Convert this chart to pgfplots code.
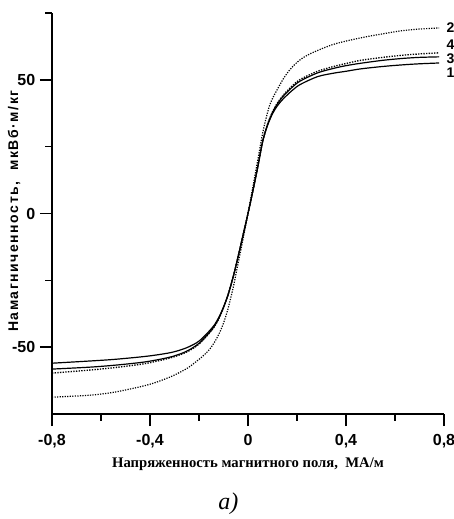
\documentclass[border=0pt]{standalone}
\usepackage{fontspec}
\setmainfont{Liberation Serif}
\setsansfont{Liberation Sans}
\usepackage{pgfplots}
\pgfplotsset{compat=1.18}

\begin{document}
\begin{tikzpicture}
% page frame, to keep the white margins of the scan
\path[use as bounding box] (-39pt,-78.75pt) rectangle (301.5pt,310.5pt);
\begin{axis}[
    scale only axis,
    width=294pt, height=300.75pt,
    xmin=-0.8, xmax=0.8,
    ymin=-75, ymax=75,
    axis lines=left,
    axis line style={line width=1.4pt, -},
    xtick={-0.8,-0.4,0,0.4,0.8},
    ytick={-50,0,50},
    minor xtick={-0.6,-0.2,0.2,0.6},
    minor ytick={-25,25,75},
    tick align=outside,
    major tick length=9pt,
    minor tick length=5pt,
    every tick/.style={line width=1.2pt, black},
    ticklabel style={font=\sffamily\bfseries\fontsize{12}{14}\selectfont},
    xticklabel style={yshift=-3pt},
    /pgf/number format/use comma,
    /pgf/number format/assume math mode=true,
    xlabel={Напряженность магнитного поля,\ \ МА/м},
    xlabel style={font=\bfseries\fontsize{11}{13}\selectfont},
    clip=false,
]
% 1
\addplot[black, line width=0.9pt, smooth] coordinates {
(-0.8,-56.0) (-0.65,-55.2) (-0.55,-54.6) (-0.444,-53.7) (-0.38,-53.0) (-0.309,-51.9)
(-0.25,-50.2) (-0.198,-47.6) (-0.144,-42.5) (-0.12,-39.0) (-0.1,-35.0) (-0.08,-30.0)
(-0.06,-23.5) (-0.04,-16.0) (-0.02,-8.0) (0,0) (0.02,8.5) (0.04,17.5) (0.06,27.0)
(0.08,33.0) (0.1,37.3) (0.12,40.3) (0.144,42.9) (0.18,46.0) (0.214,48.3) (0.284,51.2)
(0.35,52.5) (0.4,53.2) (0.46,54.1) (0.55,55.0) (0.63,55.6) (0.7,56.0) (0.78,56.3)
};
% 3
\addplot[black, line width=0.9pt, smooth] coordinates {
(-0.8,-58.2) (-0.65,-57.5) (-0.55,-56.8) (-0.444,-55.8) (-0.38,-54.9) (-0.309,-53.5)
(-0.25,-51.5) (-0.198,-48.4) (-0.144,-43.0) (-0.12,-39.3) (-0.1,-35.2) (-0.08,-30.0)
(-0.06,-23.5) (-0.04,-16.0) (-0.02,-8.0) (0,0) (0.02,8.5) (0.04,17.5) (0.06,27.0)
(0.08,33.3) (0.1,37.8) (0.12,41.0) (0.144,43.9) (0.18,47.2) (0.214,49.6) (0.284,52.6)
(0.35,54.3) (0.4,55.3) (0.46,56.2) (0.55,57.3) (0.63,58.0) (0.7,58.4) (0.78,58.6)
};
% 4
\addplot[black, line width=1.0pt, densely dotted, smooth] coordinates {
(-0.8,-59.7) (-0.65,-58.6) (-0.55,-57.7) (-0.444,-56.5) (-0.38,-55.4) (-0.309,-53.8)
(-0.25,-51.8) (-0.198,-48.7) (-0.144,-43.2) (-0.12,-39.5) (-0.1,-35.3) (-0.08,-30.0)
(-0.06,-23.5) (-0.04,-16.0) (-0.02,-8.0) (0,0) (0.02,8.5) (0.04,17.5) (0.06,27.0)
(0.08,33.4) (0.1,38.0) (0.12,41.3) (0.144,44.3) (0.18,47.7) (0.214,50.2) (0.284,53.2)
(0.35,55.0) (0.4,56.1) (0.46,57.3) (0.55,58.4) (0.63,59.2) (0.7,59.7) (0.78,60.1)
};
% 2
\addplot[black, line width=0.9pt, densely dotted, smooth] coordinates {
(-0.8,-68.7) (-0.65,-68.0) (-0.55,-66.9) (-0.444,-64.9) (-0.38,-63.3) (-0.309,-60.8)
(-0.25,-58.0) (-0.21,-55.3) (-0.18,-53.0) (-0.156,-50.7) (-0.135,-47.9) (-0.115,-44.4)
(-0.1,-41.0) (-0.082,-35.8) (-0.06,-27.5) (-0.04,-18.5) (-0.02,-9.5) (0,0) (0.02,10.0)
(0.04,20.0) (0.062,31.0) (0.085,39.5) (0.1,43.0) (0.119,46.3) (0.145,50.5) (0.173,54.0)
(0.21,57.3) (0.255,59.8) (0.35,63.3) (0.46,65.7) (0.55,67.2) (0.63,68.4) (0.7,69.0)
(0.78,69.4)
};
\begin{scope}[every node/.style={font=\sffamily\bfseries\fontsize{10.5}{12}\selectfont, anchor=west, inner sep=0pt}]
\node at (axis cs:0.81,69.6) {2};
\node at (axis cs:0.81,63.2) {4};
\node at (axis cs:0.81,58.0) {3};
\node at (axis cs:0.81,52.5) {1};
\end{scope}
% y axis title
\node[rotate=90, inner sep=0pt,
      font=\sffamily\bfseries\fontsize{10.5}{12}\selectfont\addfontfeatures{LetterSpace=11}]
      at (rel axis cs:-0.097,0.506) {Намагниченность,\ \ мкВб·м/кг};
\node[font=\itshape\fontsize{18}{20}\selectfont] at (axis cs:-0.08,-108.6) {a)};
\end{axis}
\end{tikzpicture}
\end{document}
